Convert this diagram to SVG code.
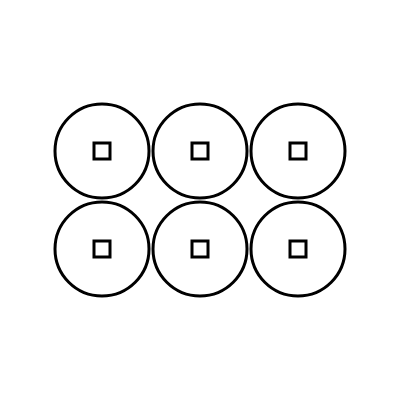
<svg xmlns="http://www.w3.org/2000/svg" width="400" height="400" viewBox="0 0 400 400">
<style>
.c{fill:none;stroke:#000;stroke-width:3}
.s{fill:none;stroke:#000;stroke-width:3}
</style>
<rect width="400" height="400" fill="#fff"/>
<g id="n1"><circle class="c" cx="102" cy="151" r="47"/><rect class="s" x="94" y="143" width="16" height="16"/></g>
<g id="n2"><circle class="c" cx="200" cy="151" r="47"/><rect class="s" x="192" y="143" width="16" height="16"/></g>
<g id="n3"><circle class="c" cx="298" cy="151" r="47"/><rect class="s" x="290" y="143" width="16" height="16"/></g>
<g id="n4"><circle class="c" cx="102" cy="249" r="47"/><rect class="s" x="94" y="241" width="16" height="16"/></g>
<g id="n5"><circle class="c" cx="200" cy="249" r="47"/><rect class="s" x="192" y="241" width="16" height="16"/></g>
<g id="n6"><circle class="c" cx="298" cy="249" r="47"/><rect class="s" x="290" y="241" width="16" height="16"/></g>
<g id="connectors"></g>
</svg>
